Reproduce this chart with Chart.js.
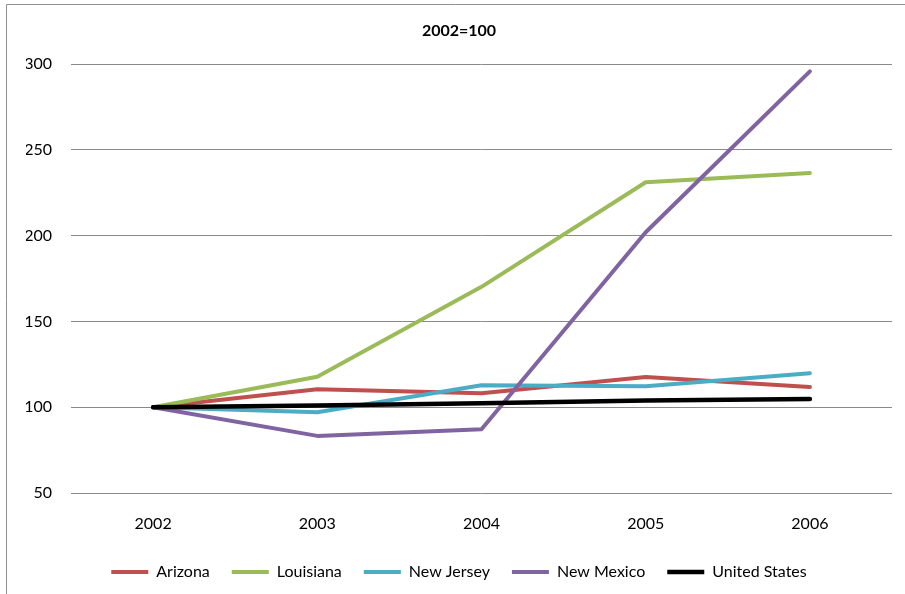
<!DOCTYPE html>
<html>
<head>
<meta charset="utf-8">
<title>2002=100</title>
<script src="https://cdn.jsdelivr.net/npm/chart.js@4/dist/chart.umd.min.js"></script>
<style>
  html, body { margin: 0; padding: 0; background: #fff; }
  #wrap { position: relative; width: 905px; height: 594px; }
</style>
</head>
<body>
<div id="wrap"><canvas id="myChart"></canvas></div>
<script>
// Index values, 2002 = 100
const years = ["2002", "2003", "2004", "2005", "2006"];
const arizona = [100, 110.5, 108.1, 117.6, 111.8];
const louisiana = [100, 117.8, 170.2, 231.2, 236.6];
const newJersey = [100, 97.1, 112.8, 112.2, 119.8];
const newMexico = [100, 83.3, 87.2, 202, 295.8];
const unitedStates = [100, 101, 102.3, 103.9, 104.8];

const seriesNames = ["Arizona", "Louisiana", "New Jersey", "New Mexico", "United States"];
const seriesColors = ["#C0504D", "#9BBB59", "#4BACC6", "#8064A2", "#000000"];
const seriesValues = [arizona, louisiana, newJersey, newMexico, unitedStates];

const font = "Lato, 'Open Sans', sans-serif";

// thin frame along the top and left edges
const frame = {
  id: "frame",
  beforeDraw(chart) {
    const ctx = chart.ctx;
    ctx.save();
    ctx.strokeStyle = "#8f8f8f";
    ctx.lineWidth = 1;
    ctx.beginPath();
    ctx.moveTo(6.5, chart.height);
    ctx.lineTo(6.5, 4.5);
    ctx.lineTo(chart.width, 4.5);
    ctx.stroke();
    ctx.restore();
  }
};

const datasets = seriesNames.map((name, i) => ({
  label: name,
  data: seriesValues[i],
  borderColor: seriesColors[i],
  backgroundColor: seriesColors[i],
  borderWidth: i === 4 ? 4.5 : 4,
  pointRadius: 0,
  pointHoverRadius: 0,
  tension: 0,
  borderJoinStyle: "round",
  borderCapStyle: "round",
  fill: false,
  // later series sit on top of earlier ones
  order: seriesNames.length - i
}));

new Chart(document.getElementById("myChart").getContext("2d"), {
  type: "line",
  data: { labels: years, datasets: datasets },
  plugins: [frame],
  options: {
    responsive: true,
    maintainAspectRatio: false,
    animation: false,
    layout: { padding: { left: 26, right: 13, top: 0, bottom: 4 } },
    plugins: {
      title: {
        display: true,
        text: "2002=100",
        color: "#000",
        font: { family: font, size: 16, weight: "bold" },
        padding: { top: 21, bottom: 24 }
      },
      legend: {
        position: "bottom",
        labels: {
          usePointStyle: true,
          pointStyle: "line",
          pointStyleWidth: 37,
          boxHeight: 3,
          padding: 22,
          color: "#000",
          font: { family: font, size: 16 },
          sort: (a, b) => a.datasetIndex - b.datasetIndex
        }
      },
      tooltip: { enabled: false }
    },
    scales: {
      x: {
        offset: true,
        grid: { display: false },
        border: { display: false },
        ticks: { color: "#000", padding: 13, font: { family: font, size: 16 } },
        afterFit: (scale) => { scale.height = 49; }
      },
      y: {
        min: 50,
        max: 300,
        ticks: { stepSize: 50, color: "#000", padding: 19, font: { family: font, size: 16 } },
        grid: { color: "#8a8a8a", lineWidth: 1, drawTicks: false },
        border: { display: false },
        afterFit: (scale) => { scale.width = 45; }
      }
    }
  }
});
</script>
</body>
</html>
